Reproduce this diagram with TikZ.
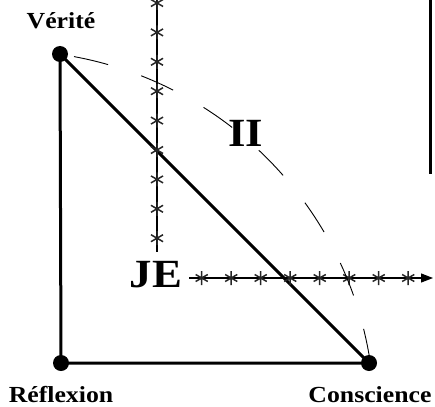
\documentclass[tikz,border=0pt]{standalone}
\usepackage{fontspec}
\setmainfont{Liberation Serif}[FakeStretch=1.12]
\usetikzlibrary{arrows.meta}
\tikzset{
  dot/.style={circle,fill=black,inner sep=0pt,minimum size=16pt},
  tri/.style={line width=3pt},
  axis/.style={line width=1.1pt},
  lab/.style={font=\fontsize{23}{24}\selectfont\bfseries,anchor=base,inner sep=0pt},
  biglab/.style={font=\fontsize{#1}{#1}\selectfont\bfseries,inner sep=0pt},
  starmark/.style={line width=1.5pt,draw=black!85},
  arcdash/.style={line width=0.9pt,dash pattern=on 35pt off 35pt}
}
\begin{document}
\begin{tikzpicture}[x=1pt,y=1pt]
\useasboundingbox (0,0) rectangle (435,-406);
% dots
\node[dot] (V) at (60,-54) {};
\node[dot] (R) at (61,-363) {};
\node[dot] (C) at (369,-363) {};
% triangle
\draw[tri] (V.center) -- (R.center) -- (C.center) -- (V.center);
% vertical star axis
\coordinate (vt) at (157,2);
\coordinate (vb) at (157,-252);
\draw[axis] (vt) -- (vb);
\foreach \k in {0,...,8}{
  \draw[starmark] (157,-3-29.4*\k) +(90:7) -- +(270:7)
     (157,-3-29.4*\k) +(30:7) -- +(210:7)
     (157,-3-29.4*\k) +(150:7) -- +(330:7);
}
% horizontal star axis
\coordinate (hl) at (189,-278);
\coordinate (hr) at (433,-278);
\draw[axis,-{Triangle[length=12pt,width=9pt]}] (hl) -- (hr);
\foreach \k in {0,...,7}{
  \draw[starmark] (201.7+29.5*\k,-278) +(90:7) -- +(270:7)
     (201.7+29.5*\k,-278) +(30:7) -- +(210:7)
     (201.7+29.5*\k,-278) +(150:7) -- +(330:7);
}
% right thick line
\coordinate (rt) at (430,2);
\coordinate (rb) at (430,-174);
\draw[line width=3pt] (rt) -- (rb);
% dashed arc
\coordinate (a0) at (74,-56.6);
\draw[arcdash] (a0) arc[start angle=79.5,end angle=6.5,radius=367.5];
% labels
\node[lab] (lV) at (61,-29) {Vérité};
\node[lab] (lR) at (61,-402) {Réflexion};
\node[lab] (lC) at (370,-402) {Conscience};
\node[biglab=40] (JE) at (156,-275) {JE};
\node[biglab=40] (II) at (246,-133) {II};
\end{tikzpicture}
\end{document}
